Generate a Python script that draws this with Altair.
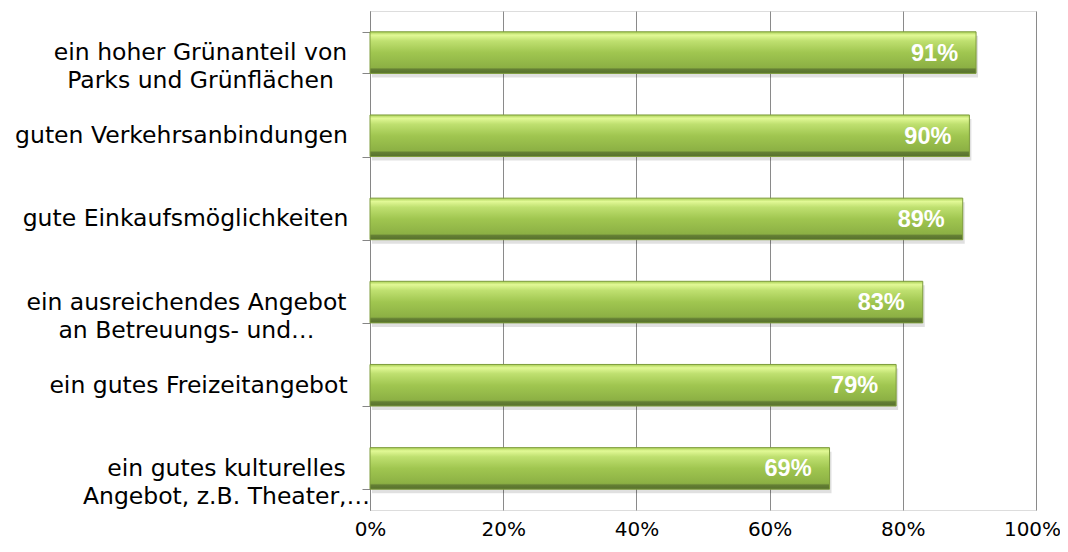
import altair as alt
import pandas as pd

categories = [
    "ein hoher Grünanteil von|Parks und Grünflächen",
    "guten Verkehrsanbindungen",
    "gute Einkaufsmöglichkeiten",
    "ein ausreichendes Angebot|an Betreuungs- und…",
    "ein gutes Freizeitangebot",
    "ein gutes kulturelles|Angebot, z.B. Theater,…",
]
values = [91, 90, 89, 83, 79, 69]
x_ticks = [0, 20, 40, 60, 80, 100]

df = pd.DataFrame({"cat": categories, "val": values})
df["lab"] = df["val"].astype(str) + "%"

FONT = "DejaVu Sans"

# label block centres (style): padding from the tick end to each label's centre
label_pad_px = [162, 181, 177, 176, 164, 136]
pad_expr = "14"
for c, p in zip(reversed(categories), reversed(label_pad_px)):
    pad_expr = f"(datum.value == '{c}' ? {p} : {pad_expr})"

grad = alt.Gradient(
    gradient="linear",
    stops=[
        alt.GradientStop(color="#a9cf55", offset=0.0),
        alt.GradientStop(color="#e2f996", offset=0.08),
        alt.GradientStop(color="#bfe070", offset=0.22),
        alt.GradientStop(color="#a0c650", offset=0.5),
        alt.GradientStop(color="#8cb044", offset=0.86),
        alt.GradientStop(color="#647f34", offset=0.9),
        alt.GradientStop(color="#56702c", offset=1.0),
    ],
    x1=0, x2=0, y1=0, y2=1,
)

y_enc = alt.Y(
    "cat:N",
    sort=categories,
    scale=alt.Scale(paddingInner=0.5, paddingOuter=0.25),
    axis=alt.Axis(
        title=None,
        labelExpr="split(datum.label, '|')",
        labelFont=FONT,
        labelFontSize=23.5,
        labelColor="#000000",
        labelAlign="center",
        labelBaseline="middle",
        labelLineHeight=28,
        labelLimit=400,
        labelPadding=alt.ExprRef(expr=pad_expr),
        tickBand="extent",
        tickSize=8,
        tickColor="#868686",
        domainColor="#868686",
        grid=False,
    ),
)

x_enc = alt.X(
    "val:Q",
    scale=alt.Scale(domain=[0, 100], nice=False),
    axis=alt.Axis(
        title=None,
        values=x_ticks,
        labelExpr="datum.value + '%'",
        labelFont=FONT,
        labelFontSize=20,
        labelColor="#000000",
        labelPadding=9,
        labelBaseline="top",
        labelFlush=False,
        labelOffset=alt.ExprRef(expr="datum.value == 100 ? -4 : 0"),
        domain=False,
        ticks=False,
        grid=True,
        gridColor="#8a8a8a",
        gridWidth=1,
    ),
)

shadow = alt.Chart(df).mark_bar(color="#000000", opacity=0.12, yOffset=4, xOffset=2).encode(
    x=x_enc, y=y_enc
)
bars = alt.Chart(df).mark_bar(color=grad, stroke="#7e9c3c", strokeWidth=1).encode(
    x=x_enc, y=y_enc
)
text = alt.Chart(df).mark_text(
    align="right", baseline="middle", dx=-18, dy=1, color="white",
    font="Liberation Sans", fontSize=23.5, fontWeight="bold"
).encode(x="val:Q", y=alt.Y("cat:N", sort=categories), text="lab:N")

chart = (
    alt.layer(shadow, bars, text)
    .properties(
        width=666,
        height=499,
        autosize=alt.AutoSizeParams(type="none"),
        padding={"left": 362, "top": 3, "right": 24, "bottom": 30},
    )
    .configure_view(stroke=None)
    .configure(background="white")
)

chart.save("out.html", embed_options={"renderer": "svg", "actions": False})
